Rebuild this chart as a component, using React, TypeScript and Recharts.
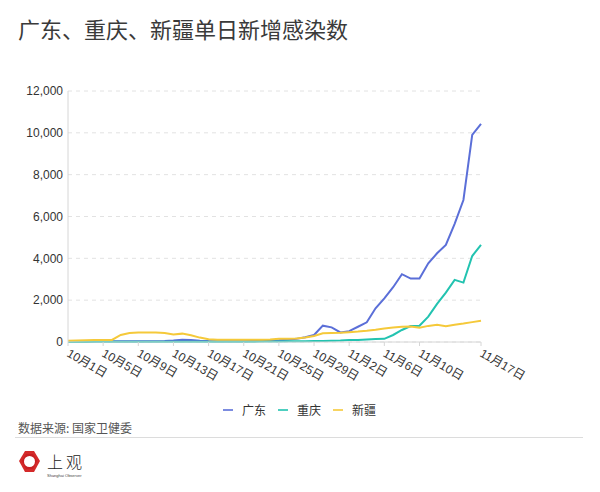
import React from "react";
import { LineChart, Line, XAxis, YAxis, CartesianGrid } from "recharts";

const dates = [
  "10月1日", "10月2日", "10月3日", "10月4日", "10月5日", "10月6日", "10月7日", "10月8日",
  "10月9日", "10月10日", "10月11日", "10月12日", "10月13日", "10月14日", "10月15日", "10月16日",
  "10月17日", "10月18日", "10月19日", "10月20日", "10月21日", "10月22日", "10月23日", "10月24日",
  "10月25日", "10月26日", "10月27日", "10月28日", "10月29日", "10月30日", "10月31日", "11月1日",
  "11月2日", "11月3日", "11月4日", "11月5日", "11月6日", "11月7日", "11月8日", "11月9日",
  "11月10日", "11月11日", "11月12日", "11月13日", "11月14日", "11月15日", "11月16日", "11月17日",
];
const tickDates = [
  "10月1日", "10月5日", "10月9日", "10月13日", "10月17日", "10月21日", "10月25日",
  "10月29日", "11月2日", "11月6日", "11月10日", "11月17日",
];
const guangdong = [
  20, 22, 25, 30, 30, 35, 40, 40, 35, 35, 40, 50, 70, 110, 90, 60, 45, 40, 35, 35, 40, 45, 50, 60,
  80, 110, 150, 230, 335, 780, 700, 460, 520, 730, 940, 1610, 2090, 2620, 3240, 3030, 3030, 3760,
  4240, 4640, 5650, 6790, 9900, 10430,
];
const chongqing = [
  5, 5, 5, 8, 8, 10, 10, 10, 10, 12, 12, 15, 15, 15, 15, 15, 15, 12, 12, 12, 15, 15, 20, 20, 25,
  30, 35, 40, 45, 50, 60, 70, 90, 100, 120, 140, 150, 335, 575, 765, 780, 1210, 1820, 2360, 2970,
  2840, 4110, 4640,
];
const xinjiang = [
  60, 70, 80, 90, 100, 100, 335, 430, 460, 460, 460, 430, 360, 400, 320, 210, 130, 110, 110, 110,
  110, 110, 110, 120, 150, 160, 170, 220, 290, 415, 430, 440, 470, 500, 540, 590, 650, 690, 730,
  740, 685, 770, 820, 750, 820, 880, 950, 1020,
];
const yTicks = [0, 2000, 4000, 6000, 8000, 10000, 12000];

const series = [
  { key: "gd", name: "广东", color: "#5b6fd8", values: guangdong },
  { key: "cq", name: "重庆", color: "#22c3b0", values: chongqing },
  { key: "xj", name: "新疆", color: "#f5c93a", values: xinjiang },
];

const data = dates.map((d, i) => ({
  date: d,
  gd: guangdong[i],
  cq: chongqing[i],
  xj: xinjiang[i],
}));

const FONT = "'Liberation Sans', 'Noto Sans CJK SC', sans-serif";
const CJK = "'Noto Sans CJK SC', sans-serif";

function DateTick(props: any) {
  const { x, y, payload } = props;
  return (
    <g transform={`translate(${x},${y + 4}) rotate(30)`}>
      <text x={0} y={0} dy="0.35em" textAnchor="start" fill="#333" fontSize={12} fontFamily={FONT}>
        {payload.value}
      </text>
    </g>
  );
}

function Logo() {
  return (
    <svg width={90} height={34} style={{ position: "absolute", left: 18, top: 450 }}>
      <polygon points="7,1 16,1 22,11 16,22 7,22 1,11" fill="#d42a2a" />
      <polygon points="8,4 15,4 19,11 15,19 8,19 4,11" fill="#c81f22" />
      <circle cx={11.5} cy={11.5} r={5.5} fill="#fff" />
      <text x={29} y={18} fontSize={16} fontFamily={CJK} fontWeight={300} fill="#222" letterSpacing={3}>
        上观
      </text>
      <text x={29} y={27} fontSize={4} fontFamily={FONT} fill="#444">
        Shanghai Observer
      </text>
    </svg>
  );
}

export default function App() {
  return (
    <div style={{ position: "absolute", left: 0, top: 0, width: 600, height: 492, background: "#fff" }}>
      <div
        style={{
          position: "absolute",
          left: 18,
          top: 14,
          fontSize: 22,
          color: "#3a3a3a",
          fontFamily: CJK,
          lineHeight: "28px",
        }}
      >
        广东、重庆、新疆单日新增感染数
      </div>
      <div style={{ position: "absolute", left: 0, top: 0 }}>
        <LineChart
          width={600}
          height={440}
          data={data}
          margin={{ top: 91, right: 119, left: 8, bottom: 38 }}
        >
          <CartesianGrid vertical={false} stroke="#e2e2e2" strokeDasharray="4 4" />
          <XAxis
            dataKey="date"
            ticks={tickDates}
            interval={0}
            height={60}
            stroke="#d6d6d6"
            tickSize={4}
            tick={<DateTick />}
          />
          <YAxis
            width={60}
            domain={[0, 12000]}
            ticks={yTicks}
            tickFormatter={(v: number) => v.toLocaleString("en-US")}
            stroke="#d6d6d6"
            tickLine={false}
            tickSize={0}
            tickMargin={5}
            tick={{ fill: "#333", fontSize: 12, fontFamily: FONT }}
          />
          {series.map((s) => (
            <Line
              key={s.key}
              type="linear"
              dataKey={s.key}
              name={s.name}
              stroke={s.color}
              strokeWidth={2}
              dot={false}
              isAnimationActive={false}
            />
          ))}
        </LineChart>
      </div>
      <div
        style={{
          position: "absolute",
          left: 223,
          top: 401,
          display: "flex",
          alignItems: "center",
          fontFamily: CJK,
          fontSize: 12,
          color: "#333",
        }}
      >
        {series.map((s) => (
          <div key={s.key} style={{ display: "flex", alignItems: "center", marginRight: 12 }}>
            <div style={{ width: 10, height: 2, background: s.color, opacity: 0.8, marginRight: 9 }} />
            <span>{s.name}</span>
          </div>
        ))}
      </div>
      <div
        style={{
          position: "absolute",
          left: 18,
          top: 419,
          fontSize: 12,
          color: "#555",
          fontFamily: CJK,
        }}
      >
        数据来源: 国家卫健委
      </div>
      <div style={{ position: "absolute", left: 15, top: 437, width: 568, height: 1, background: "#dcdcdc" }} />
      <Logo />
    </div>
  );
}
